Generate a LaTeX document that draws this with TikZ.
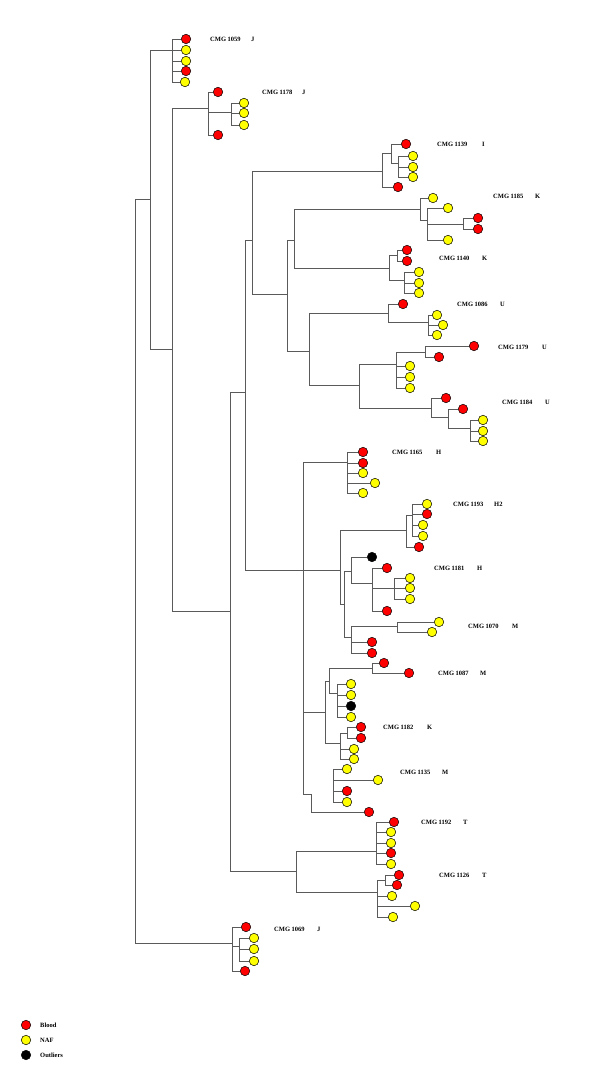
\documentclass[tikz,border=0pt]{standalone}
\usepackage{fontspec}
\setmainfont{Liberation Serif}
\definecolor{blood}{HTML}{FF0000}
\definecolor{naf}{HTML}{FFFF00}
\definecolor{branchgray}{HTML}{5A5A5A}

\tikzset{
  branch/.style={draw=branchgray, line width=0.8pt},
  leaf/.style={circle, draw=black, line width=0.5pt, minimum size=9.5pt, inner sep=0pt},
  lbl/.style={anchor=west, font=\fontsize{6.5}{7}\selectfont\bfseries, inner sep=0pt},
}

\begin{document}
\begin{tikzpicture}[x=1pt, y=-1pt]
    \useasboundingbox (0,0) rectangle (600,1070);

    % Internal nodes: x = joining height, y = where the node hangs from its parent
    \foreach \nm/\px/\py in {root/135/571, n150/150/199, n172/172/349, n230/230/611,
        n245/245/392, n296/296/871, n252/252/240, n303/303/570, n287/287/294,
        n294/294/240, n309/309/351, n359/359/385, n340/340/570, n344/344/604,
        n325/325/712, n311/311/794,
        c1059/172/50, c1178/208/108, s1178/231/112,
        c1139/382/171, s1139a/391/153, s1139b/398/163,
        c1185/420/209, s1185a/427/220, s1185b/463/224,
        c1140/389/268, s1140a/397/255, s1140b/404/280,
        c1086/388/313, s1086/428/322,
        c1179/396/364, s1179/425/352,
        c1184/431/408, s1184a/448/417, s1184b/470/428,
        c1165/347/462, c1193/406/530, s1193/412/515,
        c1181/351/571, s1181/372/583, s1181b/394/588,
        c1070/351/637, s1070/397/626,
        c1087/329/681, s1087/372/668, s1087b/337/693,
        c1182/340/743, s1182/347/733,
        c1135/333/779, c1192/376/851, c1126/377/892, s1126/385/880,
        c1069/232/943, s1069/239/946}
        \coordinate (\nm) at (\px,\py);

    % Branches between internal nodes
    \foreach \a/\b in {root/n150, root/c1069, n150/c1059, n150/n172, n172/c1178, n172/n230,
        n230/n245, n230/n296, n245/n252, n245/n303, n252/c1139, n252/n287,
        n287/n294, n287/n309, n294/c1185, n294/c1140, n309/c1086, n309/n359,
        n359/c1179, n359/c1184, n303/c1165, n303/n340, n303/n325, n303/n311,
        n340/c1193, n340/n344, n344/c1181, n344/c1070, n325/c1087, n325/c1182,
        n296/c1192, n296/c1126,
        c1178/s1178, c1139/s1139a, s1139a/s1139b, c1185/s1185a, s1185a/s1185b,
        c1140/s1140a, c1140/s1140b, c1086/s1086, c1179/s1179, c1184/s1184a,
        s1184a/s1184b, c1193/s1193, c1181/s1181, s1181/s1181b, c1070/s1070,
        c1087/s1087, c1087/s1087b, c1182/s1182, c1126/s1126, c1069/s1069}
        \draw[branch] (\a) |- (\b);

    % Samples
    \foreach \nm/\up/\px/\py/\col in {
        a1/c1059/186/39/blood, a2/c1059/186/50/naf, a3/c1059/186/61/naf, a4/c1059/186/71/blood, a5/c1059/185/82/naf,
        b1/c1178/218/92/blood, b2/s1178/244/103/naf, b3/s1178/244/113/naf, b4/s1178/244/125/naf, b5/c1178/218/135/blood,
        d1/s1139a/406/144/blood, d2/s1139b/413/156/naf, d3/s1139b/413/167/naf, d4/s1139b/413/177/naf, d5/c1139/398/187/blood,
        e1/c1185/433/198/naf, e2/s1185a/448/208/naf, e3/s1185b/478/218/blood, e4/s1185b/478/229/blood, e5/s1185a/448/240/naf,
        f1/s1140a/407/250/blood, f2/s1140a/407/261/blood, f3/s1140b/419/272/naf, f4/s1140b/419/283/naf, f5/s1140b/419/293/naf,
        g1/c1086/403/304/blood, g2/s1086/437/315/naf, g3/s1086/443/325/naf, g4/s1086/437/335/naf,
        h1/s1179/474/346/blood, h2/s1179/439/357/blood, h3/c1179/410/366/naf, h4/c1179/410/377/naf, h5/c1179/410/388/naf,
        i1/c1184/446/398/blood, i2/s1184a/463/409/blood, i3/s1184b/483/420/naf, i4/s1184b/483/431/naf, i5/s1184b/483/441/naf,
        j1/c1165/363/452/blood, j2/c1165/363/463/blood, j3/c1165/363/473/naf, j4/c1165/375/483/naf, j5/c1165/363/493/naf,
        k1/s1193/427/504/naf, k2/s1193/427/514/blood, k3/s1193/423/525/naf, k4/s1193/423/536/naf, k5/c1193/419/547/blood,
        m1/c1181/372/557/black, m2/s1181/387/568/blood, m3/s1181b/410/578/naf, m4/s1181b/410/588/naf, m5/s1181b/410/599/naf, m6/s1181/387/611/blood,
        o1/s1070/439/622/naf, o2/s1070/432/632/naf, o3/c1070/372/642/blood, o4/c1070/372/653/blood,
        p1/s1087/384/663/blood, p2/s1087/409/673/blood, p3/s1087b/351/684/naf, p4/s1087b/351/695/naf, p5/s1087b/351/706/black, p6/s1087b/351/717/naf,
        q1/s1182/361/727/blood, q2/s1182/361/738/blood, q3/c1182/354/749/naf, q4/c1182/354/759/naf,
        t1/c1135/347/769/naf, t2/c1135/378/780/naf, t3/c1135/347/791/blood, t4/c1135/347/802/naf, t5/n311/369/812/blood,
        u1/c1192/394/822/blood, u2/c1192/391/832/naf, u3/c1192/391/843/naf, u4/c1192/391/853/blood, u5/c1192/391/864/naf,
        v1/s1126/399/875/blood, v2/s1126/397/885/blood, v3/c1126/392/896/naf, v4/c1126/415/906/naf, v5/c1126/393/917/naf,
        w1/c1069/246/927/blood, w2/s1069/254/938/naf, w3/s1069/254/949/naf, w4/s1069/254/961/naf, w5/c1069/245/971/blood}
    {
        \node[leaf, fill=\col] (\nm) at (\px,\py) {};
        \draw[branch] (\up) |- (\nm);
    }

    % Cluster labels
    \foreach \id/\tx/\ty/\grp/\gx in {1059/210/39/J/251, 1178/262/92/J/302, 1139/437/144/I/482,
        1185/493/196/K/535, 1140/439/258/K/482, 1086/457/304/U/500, 1179/498/347/U/542,
        1184/502/402/U/545, 1165/392/452/H/436, 1193/453/504/H2/494, 1181/434/568/H/477,
        1070/468/626/M/512, 1087/438/673/M/480, 1182/383/727/K/427, 1135/400/772/M/442,
        1192/421/822/T/463, 1126/439/875/T/482, 1069/274/929/J/317}
    {
        \node[lbl] (t\id) at (\tx,\ty) {CMG \id};
        \node[lbl] (g\id) at (\gx,\ty) {\grp};
    }

    % Legend
    \node[leaf, fill=blood] (keyblood) at (26,1025) {};
    \node[leaf, fill=naf] (keynaf) at (26,1040) {};
    \node[leaf, fill=black] (keyout) at (26,1055) {};
    \node[lbl] at (40,1025) {Blood};
    \node[lbl] at (40,1040) {NAF};
    \node[lbl] at (40,1055) {Outliers};
\end{tikzpicture}
\end{document}
